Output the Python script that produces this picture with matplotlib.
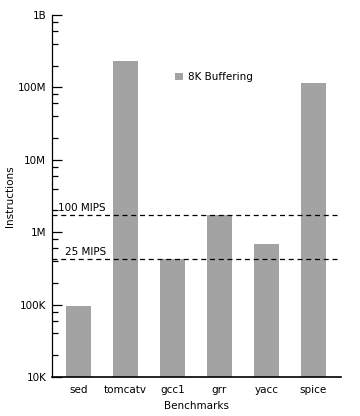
import matplotlib.pyplot as plt
import numpy as np
from matplotlib.ticker import LogLocator, FixedLocator, NullFormatter

benchmarks = ["sed", "tomcatv", "gcc1", "grr", "yacc", "spice"]
instructions = [9.5e4, 2.3e8, 4.2e5, 1.7e6, 6.8e5, 1.14e8]
mips_levels = [1.7e6, 4.2e5]
mips_labels = ["100 MIPS", "25 MIPS"]
mips_label_x = [-0.43, -0.29]
ytick_vals = [1e4, 1e5, 1e6, 1e7, 1e8, 1e9]
ytick_labels = ["10K", "100K", "1M", "10M", "100M", "1B"]

plt.rcParams['font.family'] = ['DejaVu Sans']

fig = plt.figure(figsize=(3.6, 4.16), dpi=100)
ax = fig.add_axes([0.144, 0.094, 0.803, 0.870])

x = np.arange(len(benchmarks))
ax.bar(x, instructions, width=0.53, color='#a3a3a3', label='8K Buffering', zorder=2)

# MIPS reference lines
for lvl, lab, lx in zip(mips_levels, mips_labels, mips_label_x):
    ax.axhline(lvl, color='black', linestyle=(0, (4, 3)), linewidth=0.9, zorder=3)
    ax.text(lx, lvl * 1.08, lab, ha='left', va='bottom', fontsize=7.5)

ax.set_yscale('log')
ax.set_ylim(1e4, 1e9)
ax.set_xlim(-0.56, 5.585)
ax.yaxis.set_major_locator(FixedLocator(ytick_vals))
ax.set_yticklabels(ytick_labels, fontsize=7.5)
ax.yaxis.set_minor_locator(LogLocator(base=10, subs=(2, 4, 6, 8)))
ax.yaxis.set_minor_formatter(NullFormatter())
ax.tick_params(axis='y', which='major', direction='in', length=7, width=0.9, pad=4)
ax.tick_params(axis='y', which='minor', direction='in', length=4, width=0.9)

ax.set_xticks(x)
ax.set_xticklabels(benchmarks, fontsize=7.5)
ax.tick_params(axis='x', length=0, pad=6)

ax.spines['top'].set_visible(False)
ax.spines['right'].set_visible(False)
ax.spines['left'].set_linewidth(0.9)
ax.spines['bottom'].set_linewidth(1.2)

ax.set_xlabel("Benchmarks", fontsize=7.5, labelpad=4)
ax.set_ylabel("Instructions", fontsize=7.5, labelpad=2)

ax.legend(loc='center left', bbox_to_anchor=(0.395, 0.829), frameon=False,
          handlelength=0.7, handleheight=0.7, handletextpad=0.5, fontsize=7.5)

fig.savefig("out.png", dpi=100)
